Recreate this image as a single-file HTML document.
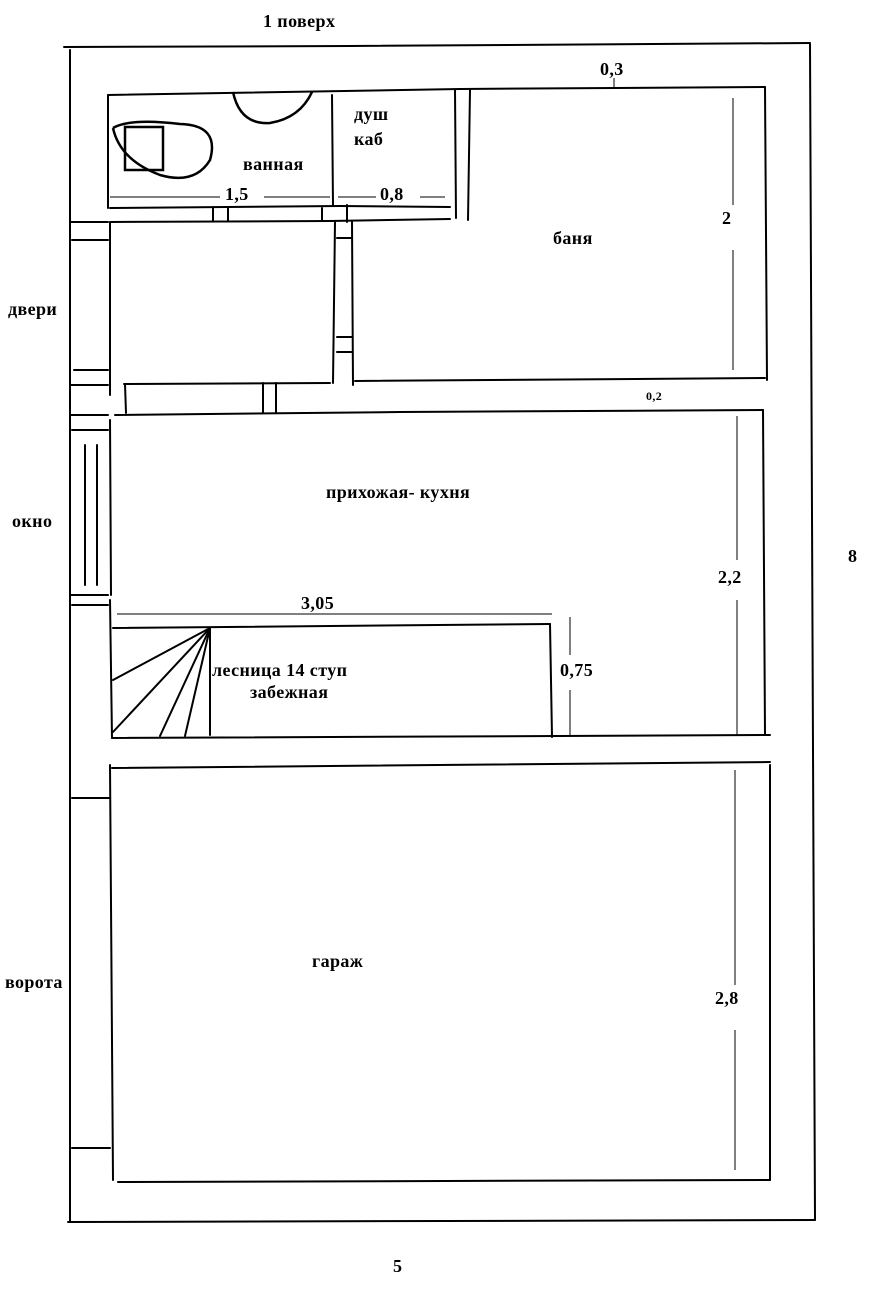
<!DOCTYPE html>
<html><head><meta charset="utf-8"><style>
html,body{margin:0;padding:0;background:#fff;}
svg{display:block}
text{font-family:"Liberation Serif","DejaVu Serif",serif;font-weight:bold;font-size:18px;letter-spacing:0.4px;fill:#000}
</style></head><body>
<svg width="873" height="1290" viewBox="0 0 873 1290" xmlns="http://www.w3.org/2000/svg">
<g stroke="#000" stroke-width="2" fill="none" stroke-linecap="round">
<path d="M64 47 L350 46 L810 43"/>
<path d="M70 50 L70 1222"/>
<path d="M810 44 L815 1220"/>
<path d="M68 1222 L815 1220"/>
<path d="M108 95 L460 89 L765 87"/>
<path d="M765 87 L767 380"/>
<path d="M108 95 L108 208"/>
<path d="M110 208 L340 206 L450 207"/>
<path d="M110 222 L330 221 L450 219"/>
<path d="M455 90 L456 218"/>
<path d="M470 90 L468 220"/>
<path d="M332 95 L333 206"/>
<path d="M110 222 L110 395"/>
<path d="M110 420 L111 595"/>
<path d="M110 600 L112 738"/>
<path d="M110 765 L113 1180"/>
<path d="M118 1182 L770 1180"/>
<path d="M770 765 L770 1180"/>
<path d="M763 410 L765 735"/>
<path d="M335 222 L333 383"/>
<path d="M352 222 L353 385"/>
<path d="M337 238 L352 238"/><path d="M337 337 L352 337"/><path d="M337 352 L352 352"/>
<path d="M347 205 L347 222"/><path d="M213 207 L213 221"/><path d="M228 207 L228 221"/><path d="M322 208 L322 221"/>
<path d="M124 384 L330 383"/><path d="M355 381 L765 378"/>
<path d="M115 415 L400 412 L763 410"/>
<path d="M125 384 L126 413"/>
<path d="M263 383 L263 413"/><path d="M276 383 L276 413"/>
<path d="M70 222 L108 222"/><path d="M72 240 L108 240"/>
<path d="M74 370 L108 370"/><path d="M70 385 L108 385"/>
<path d="M70 415 L108 415"/><path d="M72 430 L108 430"/>
<path d="M70 595 L108 595"/><path d="M72 605 L108 605"/>
<path d="M85 445 L85 585"/><path d="M97 445 L97 585"/>
<path d="M72 798 L110 798"/><path d="M72 1148 L110 1148"/>
<path d="M113 628 L550 624"/>
<path d="M550 624 L552 737"/>
<path d="M112 738 L770 735"/>
<path d="M112 768 L770 762"/>
<path d="M210 628 L210 735"/>
<path d="M210 628 L113 680"/><path d="M210 628 L113 732"/>
<path d="M210 628 L160 736"/><path d="M210 628 L185 736"/>
</g>
<g stroke="#000" stroke-width="1" fill="none">
<path d="M117 614 L552 614"/>
<path d="M570 617 L570 655"/><path d="M570 690 L570 736"/>
<path d="M733 98 L733 205"/><path d="M733 250 L733 370"/>
<path d="M737 416 L737 560"/><path d="M737 600 L737 735"/>
<path d="M735 770 L735 985"/><path d="M735 1030 L735 1170"/>
<path d="M110 197 L220 197"/><path d="M264 197 L330 197"/>
<path d="M338 197 L376 197"/><path d="M420 197 L445 197"/>
<path d="M614 78 L614 88"/>
</g>
<g stroke="#000" stroke-width="2.5" fill="none">
<rect x="125" y="127" width="38" height="43"/>
<path d="M113 128 Q130 118 180 124 Q220 125 210 160 Q195 185 160 175 Q120 160 113 128"/>
<path d="M233 92 Q240 125 270 123 Q300 118 312 92"/>
</g>
<text x="263" y="27">1 поверх</text>
<text x="600" y="75">0,3</text>
<text x="354" y="120">душ</text>
<text x="354" y="145">каб</text>
<text x="243" y="170">ванная</text>
<text x="225" y="200">1,5</text>
<text x="380" y="200">0,8</text>
<text x="722" y="224">2</text>
<text x="553" y="244">баня</text>
<text x="8" y="315">двери</text>
<text x="646" y="400" style="font-size:12px">0,2</text>
<text x="326" y="498">прихожая- кухня</text>
<text x="12" y="527">окно</text>
<text x="848" y="562">8</text>
<text x="718" y="583">2,2</text>
<text x="301" y="609">3,05</text>
<text x="212" y="676">лесница 14 ступ</text>
<text x="250" y="698">забежная</text>
<text x="560" y="676">0,75</text>
<text x="312" y="967">гараж</text>
<text x="5" y="988">ворота</text>
<text x="715" y="1004">2,8</text>
<text x="393" y="1272">5</text>
</svg>
</body></html>
